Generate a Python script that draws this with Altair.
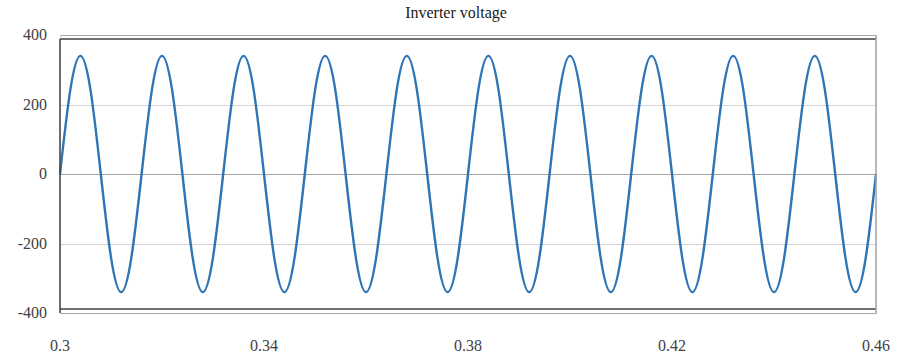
import altair as alt
import pandas as pd

# Time samples (s), every 1/8 of a period
time_s = [
    0.300, 0.302, 0.304, 0.306, 0.308, 0.310, 0.312, 0.314,
    0.316, 0.318, 0.320, 0.322, 0.324, 0.326, 0.328, 0.330,
    0.332, 0.334, 0.336, 0.338, 0.340, 0.342, 0.344, 0.346,
    0.348, 0.350, 0.352, 0.354, 0.356, 0.358, 0.360, 0.362,
    0.364, 0.366, 0.368, 0.370, 0.372, 0.374, 0.376, 0.378,
    0.380, 0.382, 0.384, 0.386, 0.388, 0.390, 0.392, 0.394,
    0.396, 0.398, 0.400, 0.402, 0.404, 0.406, 0.408, 0.410,
    0.412, 0.414, 0.416, 0.418, 0.420, 0.422, 0.424, 0.426,
    0.428, 0.430, 0.432, 0.434, 0.436, 0.438, 0.440, 0.442,
    0.444, 0.446, 0.448, 0.450, 0.452, 0.454, 0.456, 0.458,
    0.460,
]

# Inverter voltage (V) read at those instants
voltage = [
    0, 240, 340, 240, 0, -240, -340, -240,
    0, 240, 340, 240, 0, -240, -340, -240,
    0, 240, 340, 240, 0, -240, -340, -240,
    0, 240, 340, 240, 0, -240, -340, -240,
    0, 240, 340, 240, 0, -240, -340, -240,
    0, 240, 340, 240, 0, -240, -340, -240,
    0, 240, 340, 240, 0, -240, -340, -240,
    0, 240, 340, 240, 0, -240, -340, -240,
    0, 240, 340, 240, 0, -240, -340, -240,
    0, 240, 340, 240, 0, -240, -340, -240,
    0,
]

x_ticks = [0.3, 0.34, 0.38, 0.42, 0.46]
x_tick_labels = ["0.3", "0.34", "0.38", "0.42", "0.46"]
y_ticks = [-400, -200, 0, 200, 400]
y_tick_labels = ["-400", "-200", "0", "200", "400"]
title_text = "Inverter voltage"

FONT = "Liberation Serif, Times New Roman, serif"
W, H = 816, 278
LABEL_COLOR = "#404040"

df = pd.DataFrame({"t": time_s, "v": voltage})
xdf = pd.DataFrame({"t": x_ticks, "lab": x_tick_labels})
ydf = pd.DataFrame({"v": y_ticks, "lab": y_tick_labels})

xscale = alt.Scale(domain=[0.3, 0.46], nice=False, zero=False)
yscale = alt.Scale(domain=[-400, 400], nice=False)

line = alt.Chart(df).mark_line(
    color="#2e75b6", strokeWidth=2.4, interpolate="natural"
).encode(
    x=alt.X("t:Q", scale=xscale, axis=None),
    y=alt.Y(
        "v:Q",
        scale=yscale,
        axis=alt.Axis(
            values=y_ticks, title=None, grid=True, labels=False,
            gridColor={
                "condition": {"test": "datum.value === 0 || abs(datum.value) === 400",
                              "value": "#a6a6a6"},
                "value": "#d4d4d4",
            },
            gridWidth=1.2, ticks=False, domain=False,
        ),
    ),
)

xlabels = alt.Chart(xdf).mark_text(
    font=FONT, fontSize=16, color=LABEL_COLOR, align="center", baseline="top"
).encode(x=alt.X("t:Q", scale=xscale), y=alt.value(H + 25), text="lab:N")

ylabels = alt.Chart(ydf).mark_text(
    font=FONT, fontSize=16, color=LABEL_COLOR, align="right", baseline="middle"
).encode(x=alt.value(-13), y=alt.Y("v:Q", scale=yscale), text="lab:N")

one = alt.Data(values=[{}])

frame_top = alt.Chart(one).mark_rule(color="#404040", strokeWidth=1.5).encode(
    x=alt.value(0), x2=alt.value(W), y=alt.value(4)
)
frame_bottom = alt.Chart(one).mark_rule(color="#404040", strokeWidth=1.5).encode(
    x=alt.value(0), x2=alt.value(W), y=alt.value(H - 4)
)
frame_left = alt.Chart(one).mark_rule(color="#404040", strokeWidth=1.5).encode(
    x=alt.value(0), y=alt.value(4), y2=alt.value(H)
)
frame_right = alt.Chart(one).mark_rule(color="#a6a6a6", strokeWidth=1.5).encode(
    x=alt.value(W), y=alt.value(0), y2=alt.value(H)
)
title = alt.Chart(one).mark_text(
    font=FONT, fontSize=16, color="#1a1a1a", align="center", baseline="alphabetic"
).encode(x=alt.value(396), y=alt.value(-17), text=alt.value(title_text))

chart = alt.layer(
    line, frame_top, frame_bottom, frame_left, frame_right, xlabels, ylabels, title
).properties(
    width=W,
    height=H,
    autosize=alt.AutoSizeParams(type="none"),
    padding={"left": 60, "top": 35, "right": 31, "bottom": 45},
).configure_view(stroke=None).configure(background="white")

chart.save("out.html", embed_options={"renderer": "svg", "actions": False})
